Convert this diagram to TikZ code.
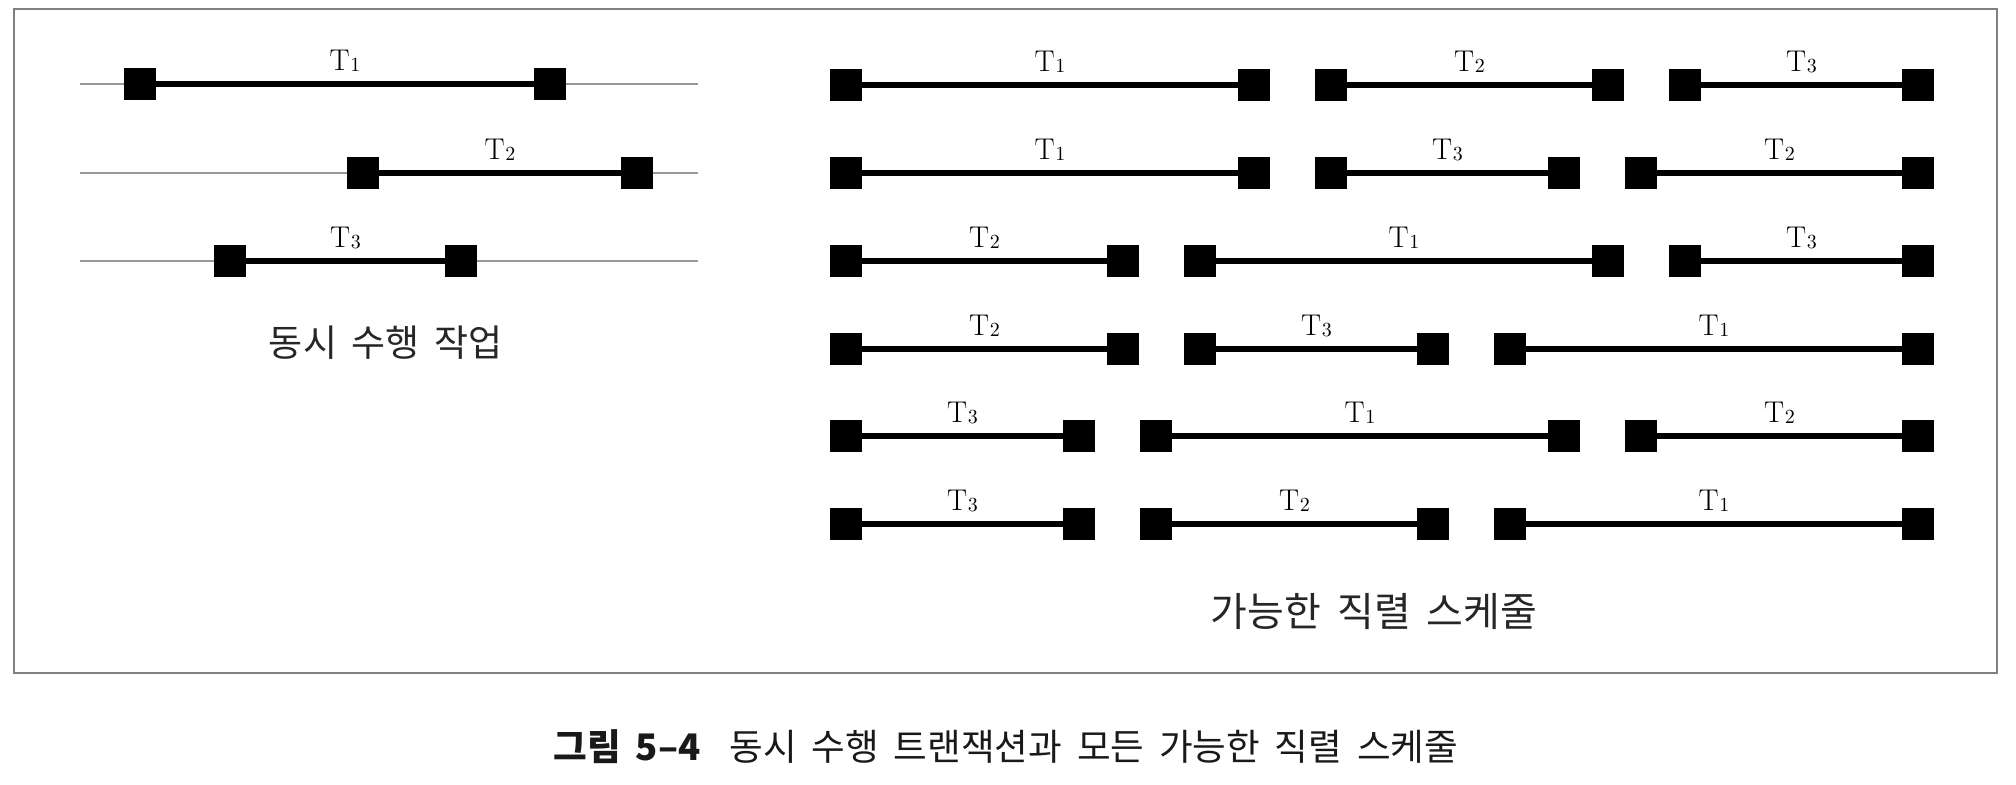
\documentclass[tikz,border=0pt]{standalone}
\usepackage{fontspec}
\newfontfamily\kr{Noto Sans CJK KR}
\newfontfamily\krl{Noto Sans CJK KR}[WordSpace=2.4]
\newfontfamily\krc{Noto Sans CJK KR}[WordSpace=1.8]
\newcommand{\Tsub}[1]{T\kern0.3pt\raisebox{-0.6pt}{\fontsize{10}{10}\selectfont #1}}
\newcommand{\segm}[5]{%
  \node[sq] (#1a) at (#2,#4) {};
  \node[sq] (#1b) at (#3,#4) {};
  \draw[seg] (#1a) -- (#1b);
  \node[lbl] (#1t) at ({(#2+#3)/2},{#4-14}) {\Tsub{#5}};
}
\begin{document}
\begin{tikzpicture}[x=0.5pt,y=-0.5pt,
  sq/.style={fill=black, minimum size=16pt, inner sep=0pt, outer sep=0pt, draw=none},
  seg/.style={line width=2.8pt, black},
  guide/.style={line width=1.2pt, black!40},
  lbl/.style={anchor=base, inner sep=0pt, font=\fontsize{15}{16}\selectfont},
  frame/.style={draw=black!50, line width=1pt},
  kor/.style={inner sep=0pt, text=black!85},
]
\useasboundingbox (0,0) rectangle (2016,784);
\fill[white] (0,0) rectangle (2016,784);
\draw[frame] (14,9) rectangle (1997,673);

% left panel: concurrent execution
\coordinate (g1l) at (80,84);  \coordinate (g1r) at (698,84);
\coordinate (g2l) at (80,173); \coordinate (g2r) at (698,173);
\coordinate (g3l) at (80,261); \coordinate (g3r) at (698,261);
\draw[guide] (g1l) -- (g1r);
\draw[guide] (g2l) -- (g2r);
\draw[guide] (g3l) -- (g3r);
\segm{La}{140}{550}{84}{1}
\segm{Lb}{363}{637}{173}{2}
\segm{Lc}{230}{461}{261}{3}
\node[kor, font=\krl\fontsize{18.5}{20}\selectfont] (ltxt) at (386,343) {동시 수행 작업};

% right panel: serial schedules
\segm{Aa}{846}{1254}{85}{1}
\segm{Ab}{1331}{1608}{85}{2}
\segm{Ac}{1685}{1918}{85}{3}

\segm{Ba}{846}{1254}{173}{1}
\segm{Bb}{1331}{1564}{173}{3}
\segm{Bc}{1641}{1918}{173}{2}

\segm{Ca}{846}{1123}{261}{2}
\segm{Cb}{1200}{1608}{261}{1}
\segm{Cc}{1685}{1918}{261}{3}

\segm{Da}{846}{1123}{349}{2}
\segm{Db}{1200}{1433}{349}{3}
\segm{Dc}{1510}{1918}{349}{1}

\segm{Ea}{846}{1079}{436}{3}
\segm{Eb}{1156}{1564}{436}{1}
\segm{Ec}{1641}{1918}{436}{2}

\segm{Fa}{846}{1079}{524}{3}
\segm{Fb}{1156}{1433}{524}{2}
\segm{Fc}{1510}{1918}{524}{1}

\node[kor, font=\kr\fontsize{20}{22}\selectfont] (rtxt) at (1374,611) {가능한 직렬 스케줄};

% caption
\node[kor, anchor=west, text=black!90, font=\krc\fontsize{18.3}{20}\selectfont] (cap) at (553,747)
  {{\bfseries 그림 5–4}\hspace{0.8em}동시 수행 트랜잭션과 모든 가능한 직렬 스케줄};
\end{tikzpicture}
\end{document}
